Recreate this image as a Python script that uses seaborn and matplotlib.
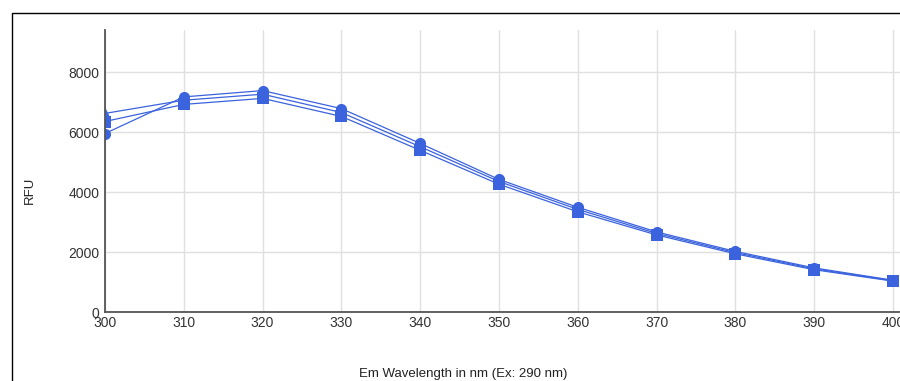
import pandas as pd
import matplotlib.pyplot as plt
import seaborn as sns
from matplotlib.patches import Rectangle

# Datos
longitudes = [300, 310, 320, 330, 340, 350, 360, 370, 380, 390, 400]
serie_circulo = [5950, 7170, 7380, 6780, 5620, 4420, 3490, 2670, 2020, 1470, 1060]
serie_cuadrado = [6350, 6920, 7120, 6520, 5390, 4260, 3340, 2570, 1940, 1410, 1030]
serie_triangulo = [6620, 7060, 7260, 6650, 5510, 4350, 3420, 2620, 1980, 1440, 1045]
nombres = ["A", "B", "C"]

df = pd.DataFrame({
    "x": longitudes * 3,
    "RFU": serie_circulo + serie_cuadrado + serie_triangulo,
    "serie": [n for n in nombres for _ in longitudes],
})

sns.set_style("white")
plt.rcParams['font.family'] = ['Liberation Sans', 'DejaVu Sans']

fig = plt.figure(figsize=(9, 3.81), dpi=100)
ax = fig.add_axes([105 / 900, 1 - 312 / 381, 1 - 105 / 900, (312 - 30) / 381])

color = '#3b63dd'
sns.lineplot(data=df, x="x", y="RFU", style="serie", markers=['o', 's', '^'],
             dashes=False, color=color, linewidth=0.9, markersize=8,
             markeredgewidth=0, legend=False, ax=ax)

ax.set_xlim(300, 400.9)
ax.set_ylim(0, 9400)
ax.set_xticks(longitudes)
ax.set_yticks([0, 2000, 4000, 6000, 8000])
ax.grid(True, color='#e0e0e0', linewidth=1)
ax.set_axisbelow(True)
ax.tick_params(axis='both', length=0, labelsize=10, labelcolor='#333333')
ax.tick_params(axis='x', pad=3)
ax.tick_params(axis='y', pad=4)
for s in ['top', 'right']:
    ax.spines[s].set_visible(False)
for s in ['left', 'bottom']:
    ax.spines[s].set_color('#555555')
    ax.spines[s].set_linewidth(1.3)
ax.set_xlabel("")
ax.set_ylabel("")

fig.text(30 / 900, 1 - 190 / 381, "RFU", rotation=90, ha='center', va='center',
         fontsize=9.5, color='#222222')
fig.text(463 / 900, 1 - 374 / 381, "Em Wavelength in nm (Ex: 290 nm)",
         ha='center', va='center', fontsize=9.5, color='#222222')

# Marco negro del contenedor
fig.add_artist(Rectangle((12 / 900, -0.1), 2, 1 - 13 / 381 + 0.1, fill=False,
                         edgecolor='black', linewidth=1, transform=fig.transFigure))

fig.savefig("out.png", dpi=100)
